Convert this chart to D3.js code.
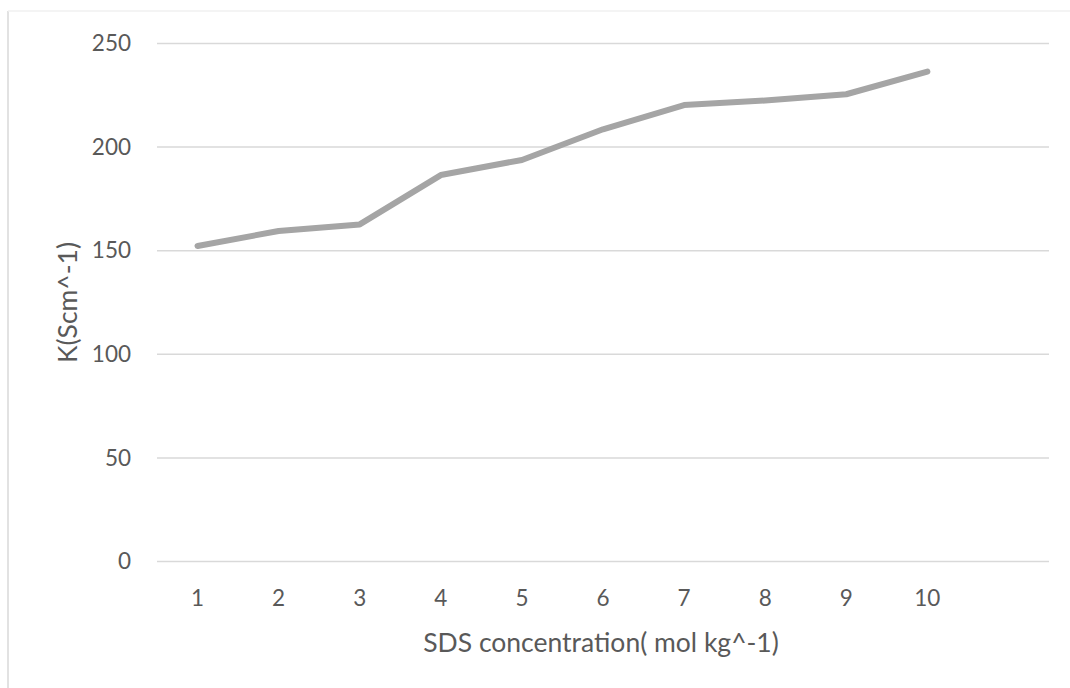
<!DOCTYPE html>
<html>
<head>
<meta charset="utf-8">
<script src="https://cdn.jsdelivr.net/npm/d3@7"></script>
<style>
  html, body { margin: 0; padding: 0; background: #fff; }
  svg { display: block; font-family: Lato, "Open Sans", sans-serif; }
</style>
</head>
<body>
<div id="chart"></div>
<script>
// data
var categories = ["1", "2", "3", "4", "5", "6", "7", "8", "9", "10", ""];
var values = [152.3, 159.5, 162.7, 186.5, 193.8, 208.6, 220.3, 222.5, 225.5, 236.4];
var yTicks = [0, 50, 100, 150, 200, 250];
var xTitle = "SDS concentration( mol kg^-1)";
var yTitle = "K(Scm^-1)";

var width = 1070, height = 688;
var plot = { left: 157, right: 1049, top: 43.5, bottom: 561.5 };

var svg = d3.select("#chart").append("svg")
  .attr("width", width)
  .attr("height", height);

// chart frame (only left + top edges visible in the crop)
svg.append("line")
  .attr("x1", 8).attr("x2", 8).attr("y1", 11).attr("y2", height)
  .attr("stroke", "#d9d9d9").attr("stroke-width", 1.5);
svg.append("line")
  .attr("x1", 8).attr("x2", width).attr("y1", 11).attr("y2", 11)
  .attr("stroke", "#f0f0f0").attr("stroke-width", 1.5);

var x = d3.scaleBand()
  .domain(categories)
  .range([plot.left, plot.right]);

var y = d3.scaleLinear()
  .domain([0, 250])
  .range([plot.bottom, plot.top]);

// gridlines
svg.append("g")
  .selectAll("line")
  .data(yTicks)
  .join("line")
    .attr("x1", plot.left)
    .attr("x2", plot.right)
    .attr("y1", d => y(d))
    .attr("y2", d => y(d))
    .attr("stroke", "#d9d9d9")
    .attr("stroke-width", 1.5);

// y axis labels
var yAxis = svg.append("g")
  .attr("transform", `translate(${plot.left - 20},0)`)
  .call(d3.axisLeft(y).tickValues(yTicks).tickSize(0).tickPadding(6));
yAxis.select(".domain").remove();
yAxis.selectAll("text")
  .attr("fill", "#595959")
  .style("font-size", "22.5px")
  .style("font-family", "Lato, 'Open Sans', sans-serif");

// x axis labels
var xAxis = svg.append("g")
  .attr("transform", `translate(0,${plot.bottom + 29})`)
  .call(d3.axisBottom(x).tickSize(0).tickPadding(0));
xAxis.select(".domain").remove();
xAxis.selectAll("text")
  .attr("fill", "#595959")
  .attr("dy", "0.71em")
  .style("font-size", "22.5px")
  .style("font-family", "Lato, 'Open Sans', sans-serif");

// line
var line = d3.line()
  .x((d, i) => x(categories[i]) + x.bandwidth() / 2)
  .y(d => y(d));

svg.append("path")
  .datum(values)
  .attr("d", line)
  .attr("fill", "none")
  .attr("stroke", "#a5a5a5")
  .attr("stroke-width", 6)
  .attr("stroke-linejoin", "round")
  .attr("stroke-linecap", "round");

// axis titles
svg.append("text")
  .attr("x", 601)
  .attr("y", 652)
  .attr("text-anchor", "middle")
  .attr("fill", "#595959")
  .style("font-size", "26.5px")
  .text(xTitle);

svg.append("text")
  .attr("transform", `translate(77,${(plot.top + plot.bottom) / 2}) rotate(-90)`)
  .attr("text-anchor", "middle")
  .attr("fill", "#595959")
  .style("font-size", "26.5px")
  .text(yTitle);
</script>
</body>
</html>
